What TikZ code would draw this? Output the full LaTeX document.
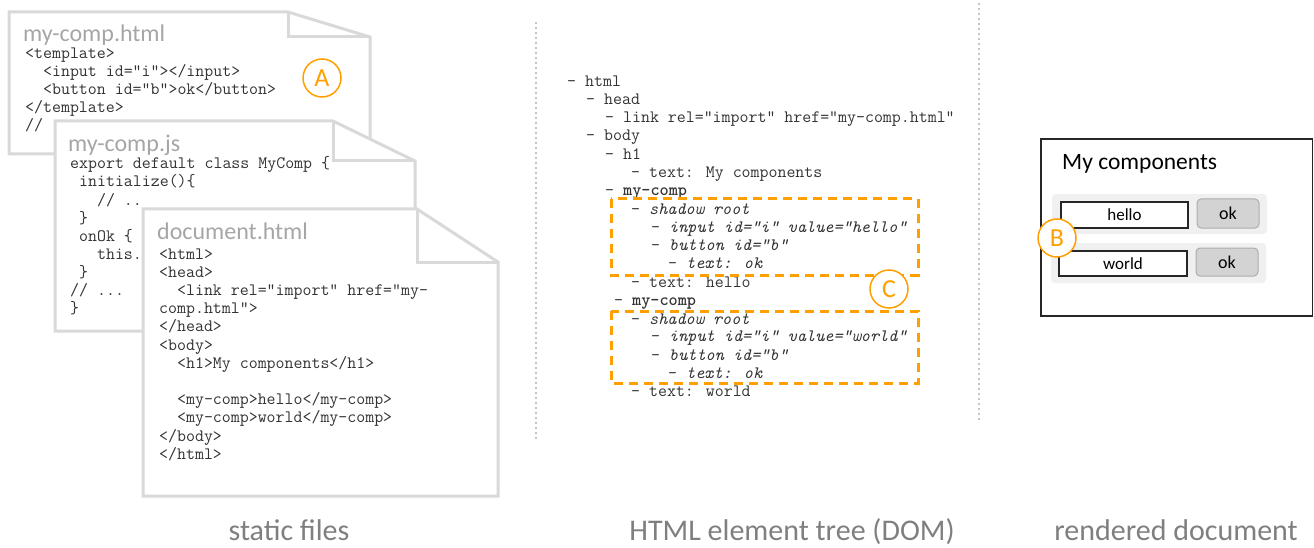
\documentclass[tikz,border=0pt]{standalone}
\usepackage{fontspec}
\setmainfont{Carlito}
\definecolor{pagegray}{HTML}{D9D9D9}
\definecolor{titlegray}{HTML}{A6A6A6}
\definecolor{codegray}{HTML}{333333}
\definecolor{accent}{HTML}{FFA000}
\definecolor{labelgray}{HTML}{7F7F7F}
\definecolor{sepgray}{HTML}{C4C4C4}
\definecolor{rowgray}{HTML}{F0F0F0}
\definecolor{btnfill}{HTML}{D3D3D3}
\definecolor{btnline}{HTML}{ADADAD}
\newcommand\codefnt{\fontsize{17.4}{18}\selectfont\ttfamily}
\tikzset{
  page/.style={fill=white, draw=pagegray, line width=3pt, line join=miter},
  fold/.style={draw=pagegray, line width=3pt, line join=miter},
  ftitle/.style={font=\fontsize{24}{28}\selectfont, text=titlegray, anchor=base west, inner sep=0pt},
  code/.style={font=\codefnt, text=codegray, anchor=base west, inner sep=0pt},
  shadowbox/.style={draw=accent, line width=3pt, dash pattern=on 9pt off 6pt},
  badge/.style={circle, draw=accent, line width=1.5pt, fill=white, minimum size=38pt, inner sep=0pt,
    font=\fontsize{26}{28}\selectfont, text=accent},
  separator/.style={draw=sepgray, line width=2pt, dash pattern=on 2pt off 3pt},
  caption/.style={font=\fontsize{30}{34}\selectfont, text=labelgray, anchor=base},
  row/.style={fill=rowgray, rounded corners=4pt, minimum width=215pt, minimum height=40pt, inner sep=0pt},
  inputbox/.style={draw=black!85, line width=1.5pt, fill=white, inner sep=0pt,
    font=\fontsize{17}{20}\selectfont},
  okbutton/.style={draw=btnline, fill=btnfill, rounded corners=4pt, line width=1pt, inner sep=0pt,
    minimum width=62pt, font=\fontsize{18}{20}\selectfont},
}
\begin{document}
\begin{tikzpicture}[x=1pt, y=-1pt]
\useasboundingbox (0,0) rectangle (1314,548);

% column separators
\coordinate (s1a) at (536,22);  \coordinate (s1b) at (536,441);
\coordinate (s2a) at (979,3);   \coordinate (s2b) at (979,422);
\draw[separator] (s1a) -- (s1b);
\draw[separator] (s2a) -- (s2b);

% ---- static files: three stacked sheets ----
% my-comp.html
\draw[page] (9,12) -- (288,12) -- (370,37) -- (370,154) -- (9,154) -- cycle;
\draw[fold] (288,12) -- (288,37) -- (370,37);
\node[ftitle] (t1) at (23,42) {my-comp.html};
\foreach \t [count=\i] in {{<template>}, {\ \ <input id="i"></input>}, {\ \ <button id="b">ok</button>}, {</template>}, {//}}
  \node[code, name=p1l\i] at (25,59+18*\i-18) {\t};
\node[badge] (A) at (322,78) {A};

% my-comp.js
\draw[page] (55,121) -- (333,121) -- (415,161) -- (415,331) -- (55,331) -- cycle;
\draw[fold] (333,121) -- (333,161) -- (415,161);
\node[ftitle] (t2) at (68,152) {my-comp.js};
\node[code] (p2l1) at (70,169) {export default class MyComp \{};
\node[code] (p2l2) at (70,187) {\ initialize()\{};
\node[code] (p2l3) at (70,205) {\ \ \ // ..};
\node[code] (p2l4) at (70,223) {\ \}};
\node[code] (p2l5) at (70,241) {\ onOk \{};
\node[code] (p2l6) at (70,259) {\ \ \ this.};
\node[code] (p2l7) at (70,277) {\ \}};
\node[code] (p2l8) at (70,295) {// ...};
\node[code] (p2l9) at (70,313) {\}};

% document.html
\draw[page] (143,209) -- (417,209) -- (498,262) -- (498,496) -- (143,496) -- cycle;
\draw[fold] (417,209) -- (417,262) -- (498,262);
\node[ftitle] (t3) at (157,240) {document.html};
\foreach \t [count=\i] in {{<html>}, {<head>}, {\ \ <link rel="import" href="my-}, {comp.html">}, {</head>}, {<body>}, {\ \ <h1>My components</h1>}}
  \node[code, name=p3a\i] at (159,259+18.2*\i-18.2) {\t};
\foreach \t [count=\i] in {{\ \ <my-comp>hello</my-comp>}, {\ \ <my-comp>world</my-comp>}, {</body>}, {</html>}}
  \node[code, name=p3b\i] at (159,404.6+18.2*\i-18.2) {\t};

% ---- element tree ----
\node[code] (d1)  at (567,86.7)  {- html};
\node[code] (d2)  at (586,104.7) {- head};
\node[code] (d3)  at (605,123)   {- link rel="import" href="my-comp.html"};
\node[code] (d4)  at (586,141)   {- body};
\node[code] (d5)  at (605,159.7) {- h1};
\node[code] (d6)  at (631,178)   {- text: My components};
\node[code] (d7)  at (605,195.7) {- \textbf{my-comp}};
\node[code] (d8)  at (631,214.7) {- \textit{shadow root}};
\node[code] (d9)  at (651,232.3) {- \textit{input id="i" value="hello"}};
\node[code] (d10) at (651,250)   {- \textit{button id="b"}};
\node[code] (d11) at (668,268.3) {- \textit{text: ok}};
\node[code] (d12) at (631,287.3) {- text: hello};
\node[code] (d13) at (614,305.7) {- \textbf{my-comp}};
\node[code] (d14) at (631,324)   {- \textit{shadow root}};
\node[code] (d15) at (651,341.7) {- \textit{input id="i" value="world"}};
\node[code] (d16) at (651,360)   {- \textit{button id="b"}};
\node[code] (d17) at (668,378.3) {- \textit{text: ok}};
\node[code] (d18) at (631,396.7) {- text: world};

% shadow roots
\draw[shadowbox] (611,199) rectangle (918,275);
\draw[shadowbox] (611,311) rectangle (918,383);
\node[badge] (C) at (889,289) {C};

% ---- rendered document ----
\draw[line width=1.5pt, draw=black!85] (1041,139) rectangle (1312.5,316);
\node[font=\fontsize{23.5}{26}\selectfont, anchor=base west, inner sep=0pt] (h1) at (1062,170) {My components};
\node[row] (r1) at (1159.5,214) {};
\node[row] (r2) at (1158.5,263) {};
\node[inputbox, minimum width=127pt, minimum height=26pt] (in1) at (1124.5,215) {hello};
\node[inputbox, minimum width=128pt, minimum height=25pt] (in2) at (1123,263.5) {world};
\node[okbutton, minimum height=29pt] (b1) at (1228,213.5) {ok};
\node[okbutton, minimum height=28pt] (b2) at (1227,262) {ok};
\node[badge] (B) at (1057,238) {B};

% ---- captions ----
\node[caption] (c1) at (289,540) {static files};
\node[caption] (c2) at (792,540) {HTML element tree (DOM)};
\node[caption] (c3) at (1176,540) {rendered document};
\end{tikzpicture}
\end{document}
